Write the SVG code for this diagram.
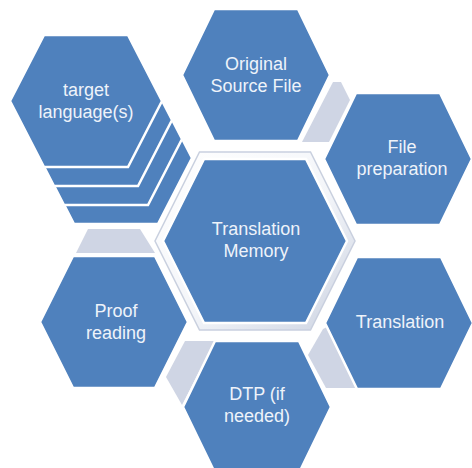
<svg xmlns="http://www.w3.org/2000/svg" xmlns:xlink="http://www.w3.org/1999/xlink" width="472" height="468" viewBox="0 0 472 468">
  <style>
    .hex { fill: #4F81BD; stroke: #FFFFFF; stroke-width: 2.5; stroke-linejoin: miter; }
    .conn { fill: #CFD5E4; stroke: none; }
    .lbl { font-family: "Liberation Sans", Arial, sans-serif; font-size: 18px; fill: #EEF3FA; text-anchor: middle; }
  </style>
  <defs>
    <polygon id="tgt" points="44,35 128,35 162,101 128,167 44,167 10,101"/>
    <linearGradient id="frameGrad" x1="0" y1="0" x2="1" y2="1">
      <stop offset="0" stop-color="#FFFFFF"/>
      <stop offset="0.55" stop-color="#F3F5F9"/>
      <stop offset="1" stop-color="#CBD2E1"/>
    </linearGradient>
    <linearGradient id="connGrad" x1="0" y1="0" x2="1" y2="0">
      <stop offset="0" stop-color="#CFD5E4"/>
      <stop offset="0.8" stop-color="#D3D8E6"/>
      <stop offset="1" stop-color="#E6E9F1"/>
    </linearGradient>
  </defs>
  <rect width="472" height="468" fill="#FFFFFF"/>

  <g id="connectors">
    <polygon class="conn" points="333,82 341,82 350,100 329,142 302,142"/>
    <polygon class="conn" points="88,229 140,229 155,253 76,253" fill="url(#connGrad)"/>
    <polygon class="conn" points="185,341 215,341 182,405 166,377"/>
    <polygon class="conn" points="323,329 327,327 357,388 326,388 308,355"/>
  </g>

  <g id="node-center">
    <polygon points="199.5,152 310.5,152 355,241 310.5,330 199.5,330 155,241" fill="url(#frameGrad)" stroke="#C9D0DF" stroke-width="1.5"/>
    <polygon class="hex" points="204,159 306,159 347,241 306,323 204,323 163,241" stroke-width="3"/>
    <text class="lbl" x="256" y="235">Translation</text>
    <text class="lbl" x="256" y="257">Memory</text>
  </g>

  <g id="node-target">
    <use xlink:href="#tgt" class="hex" transform="translate(30,57)"/>
    <use xlink:href="#tgt" class="hex" transform="translate(20,38)"/>
    <use xlink:href="#tgt" class="hex" transform="translate(10,19)"/>
    <use xlink:href="#tgt" class="hex"/>
    <text class="lbl" x="86" y="96">target</text>
    <text class="lbl" x="86" y="118">language(s)</text>
  </g>

  <g id="node-source">
    <polygon class="hex" points="214,9 298,9 330,75 298,141 214,141 182,75"/>
    <text class="lbl" x="256" y="70">Original</text>
    <text class="lbl" x="256" y="92">Source File</text>
  </g>

  <g id="node-fileprep">
    <polygon class="hex" points="356,93 440,93 472,159 440,225 356,225 324,159"/>
    <text class="lbl" x="402" y="153">File</text>
    <text class="lbl" x="402" y="175">preparation</text>
  </g>

  <g id="node-translation">
    <polygon class="hex" points="357,257 441,257 473,323 441,389 357,389 325,323"/>
    <text class="lbl" x="400" y="328">Translation</text>
  </g>

  <g id="node-dtp">
    <polygon class="hex" points="215,341 299,341 331,407 299,473 215,473 183,407"/>
    <text class="lbl" x="257" y="400">DTP (if</text>
    <text class="lbl" x="257" y="422">needed)</text>
  </g>

  <g id="node-proof">
    <polygon class="hex" points="73,256 155,256 188,322 155,388 73,388 40,322"/>
    <text class="lbl" x="116" y="317">Proof</text>
    <text class="lbl" x="116" y="339">reading</text>
  </g>
</svg>
